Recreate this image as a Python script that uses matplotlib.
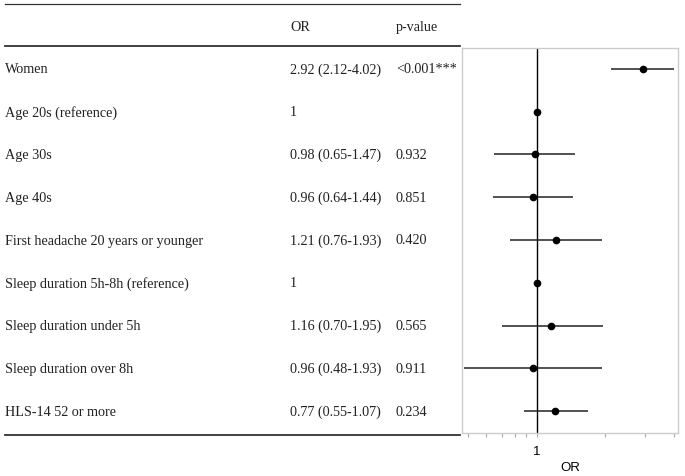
import matplotlib
matplotlib.use("Agg")
import matplotlib.pyplot as plt
import numpy as np

labels = ["Women", "Age 20s (reference)", "Age 30s", "Age 40s",
          "First headache 20 years or younger", "Sleep duration 5h-8h (reference)",
          "Sleep duration under 5h", "Sleep duration over 8h", "HLS-14 52 or more"]
or_text = ["2.92 (2.12-4.02)", "1", "0.98 (0.65-1.47)", "0.96 (0.64-1.44)",
           "1.21 (0.76-1.93)", "1", "1.16 (0.70-1.95)", "0.96 (0.48-1.93)",
           "0.77 (0.55-1.07)"]
p_text = ["<0.001***", "", "0.932", "0.851", "0.420", "", "0.565", "0.911", "0.234"]
# values as drawn in the plot panel
or_val = [2.92, 1.0, 0.98, 0.96, 1.21, 1.0, 1.16, 0.96, 1.20]
ci_lo = [2.12, 1.0, 0.65, 0.64, 0.76, 1.0, 0.70, 0.48, 0.88]
ci_hi = [4.02, 1.0, 1.47, 1.44, 1.93, 1.0, 1.95, 1.93, 1.68]

W, H = 685, 477
fig = plt.figure(figsize=(W / 100, H / 100), dpi=100)

def px_axes(x0, y0, x1, y1):
    return [x0 / W, 1 - y1 / H, (x1 - x0) / W, (y1 - y0) / H]

ax = fig.add_axes(px_axes(462.2, 48.5, 678.3, 433.5))
n = len(labels)
y = np.arange(n)
orv = np.array(or_val); lo = np.array(ci_lo); hi = np.array(ci_hi)
ax.hlines(y, lo, hi, color="#222222", lw=1.1, zorder=2)
ax.plot(orv, y, "o", color="black", ms=4.5, zorder=3)
ax.axvline(1, color="black", lw=1.0, zorder=1)
ax.set_xscale("log")
ax.set_xlim(0.47, 4.19)
ax.set_ylim(n - 0.5, -0.5)
ax.set_yticks([])
ax.set_xticks([1])
ax.set_xticklabels(["1"])
ax.set_xticks([0.5, 0.6, 0.7, 0.8, 0.9, 2, 3, 4], minor=True)
ax.xaxis.set_minor_formatter(matplotlib.ticker.NullFormatter())
ax.tick_params(axis="x", which="both", length=3, color="#aaaaaa", width=0.8,
               labelsize=9.5, pad=6)
for lab in ax.get_xticklabels():
    lab.set_fontfamily("Liberation Sans")
ax.set_xlabel("OR", fontsize=9.5, fontfamily="Liberation Sans", labelpad=3)
for s in ax.spines.values():
    s.set_color("#cccccc")
    s.set_linewidth(1.0)

# table panel sharing the row axis
axt = fig.add_axes(px_axes(0, 48.5, 462.2, 433.5), sharey=ax)
axt.set_xlim(0, 462.2)
axt.axis("off")
tfont = dict(fontfamily="Liberation Serif", fontsize=10.2, va="center", ha="left",
             color="#222222")
col_x = [5, 290, 396]
axt.text(col_x[1], -0.99, "OR", clip_on=False, **tfont)
axt.text(col_x[2], -0.99, "p-value", clip_on=False, **tfont)
for i in range(n):
    axt.text(col_x[0], i, labels[i], **tfont)
    axt.text(col_x[1], i, or_text[i], **tfont)
    axt.text(col_x[2], i, p_text[i], **tfont)
for yy, lw in [(-1.52, 0.9), (-0.53, 1.3), (8.56, 1.3)]:
    axt.plot([5, 460], [yy, yy], color="#333333", lw=lw, clip_on=False)

fig.savefig("out.png", dpi=100, facecolor="white")
